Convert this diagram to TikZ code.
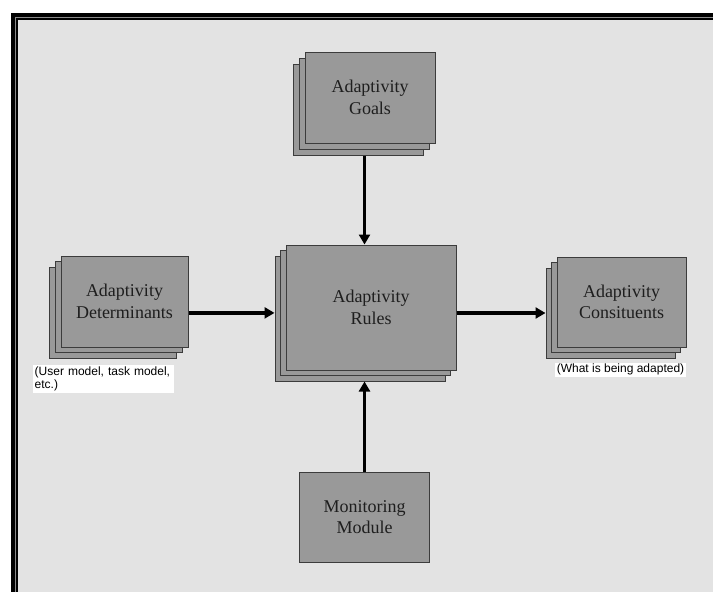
\documentclass[tikz,border=0pt]{standalone}
\usepackage{fontspec}
\setmainfont{Liberation Serif}
\newfontfamily\notefont{Liberation Sans}
\usetikzlibrary{arrows.meta}

\definecolor{panel}{HTML}{E3E3E3}
\definecolor{cardfill}{HTML}{999999}
\definecolor{cardedge}{HTML}{3C3C3C}
\definecolor{frameline}{HTML}{8A8A8A}
\definecolor{ink}{HTML}{1E1E1E}

\tikzset{
  card/.style={draw=cardedge, fill=cardfill, line width=1pt, inner sep=0pt,
    text=ink, align=center, font=\fontsize{18}{21.5}\selectfont},
  note/.style={fill=white, inner sep=1.5pt, text=black,
    font=\notefont\fontsize{12}{13.5}\selectfont},
  flow/.style={line width=3.2pt, -{Triangle[width=11pt,length=10pt]}}
}

\begin{document}
\begin{tikzpicture}[x=1pt, y=-1pt]
  \useasboundingbox (0,0) rectangle (713,592);
  \fill[white] (0,0) rectangle (713,592);

  % double frame around the panel
  \fill[black] (11,13) rectangle (713,592);
  \fill[frameline] (15,17) rectangle (713,592);
  \fill[black] (16,18) rectangle (713,592);
  \fill[panel] (17.5,19.5) rectangle (713,592);

  % Goals stack
  \node[card, minimum width=130pt, minimum height=91pt] (goals3) at (358,109.5) {};
  \node[card, minimum width=130pt, minimum height=91pt] (goals2) at (364,103.5) {};
  \node[card, minimum width=130pt, minimum height=91pt] (goals1) at (370,97.5) {Adaptivity\\Goals};

  % Rules stack
  \node[card, minimum width=170pt, minimum height=125pt] (rules3) at (360,318.5) {};
  \node[card, minimum width=170pt, minimum height=125pt] (rules2) at (365.5,313) {};
  \node[card, minimum width=170pt, minimum height=125pt] (rules1) at (371,307.5) {Adaptivity\\Rules};

  % Determinants stack
  \node[card, minimum width=127pt, minimum height=91pt] (det3) at (113.1,312.9) {};
  \node[card, minimum width=127pt, minimum height=91pt] (det2) at (118.8,307.2) {};
  \node[card, minimum width=127pt, minimum height=91pt] (det1) at (124.5,301.5) {Adaptivity\\Determinants};

  % Constituents stack
  \node[card, minimum width=129pt, minimum height=90pt] (cons3) at (610.5,313) {};
  \node[card, minimum width=129pt, minimum height=90pt] (cons2) at (616,307.5) {};
  \node[card, minimum width=129pt, minimum height=90pt] (cons1) at (621.5,302) {Adaptivity\\Consituents};

  % Monitoring module
  \node[card, minimum width=130pt, minimum height=90pt] (mon) at (364.5,517) {Monitoring\\Module};

  % side notes
  \node[note, anchor=north west, text width=138pt, align=left] (detnote) at (33,365)
    {(User model, task model,\\etc.)};
  \node[note, anchor=north, align=center] (consnote) at (620.5,362.5)
    {(What is being adapted)};

  % connectors
  \draw[flow] (mon.north |- goals3.south) -- (mon.north |- rules1.north);
  \draw[flow] (det1.east |- det3.center) -- (rules3.west |- det3.center);
  \draw[flow] (rules1.east |- cons3.center) -- (cons3.west);
  \draw[flow] (mon.north) -- (mon.north |- rules3.south);
\end{tikzpicture}
\end{document}
